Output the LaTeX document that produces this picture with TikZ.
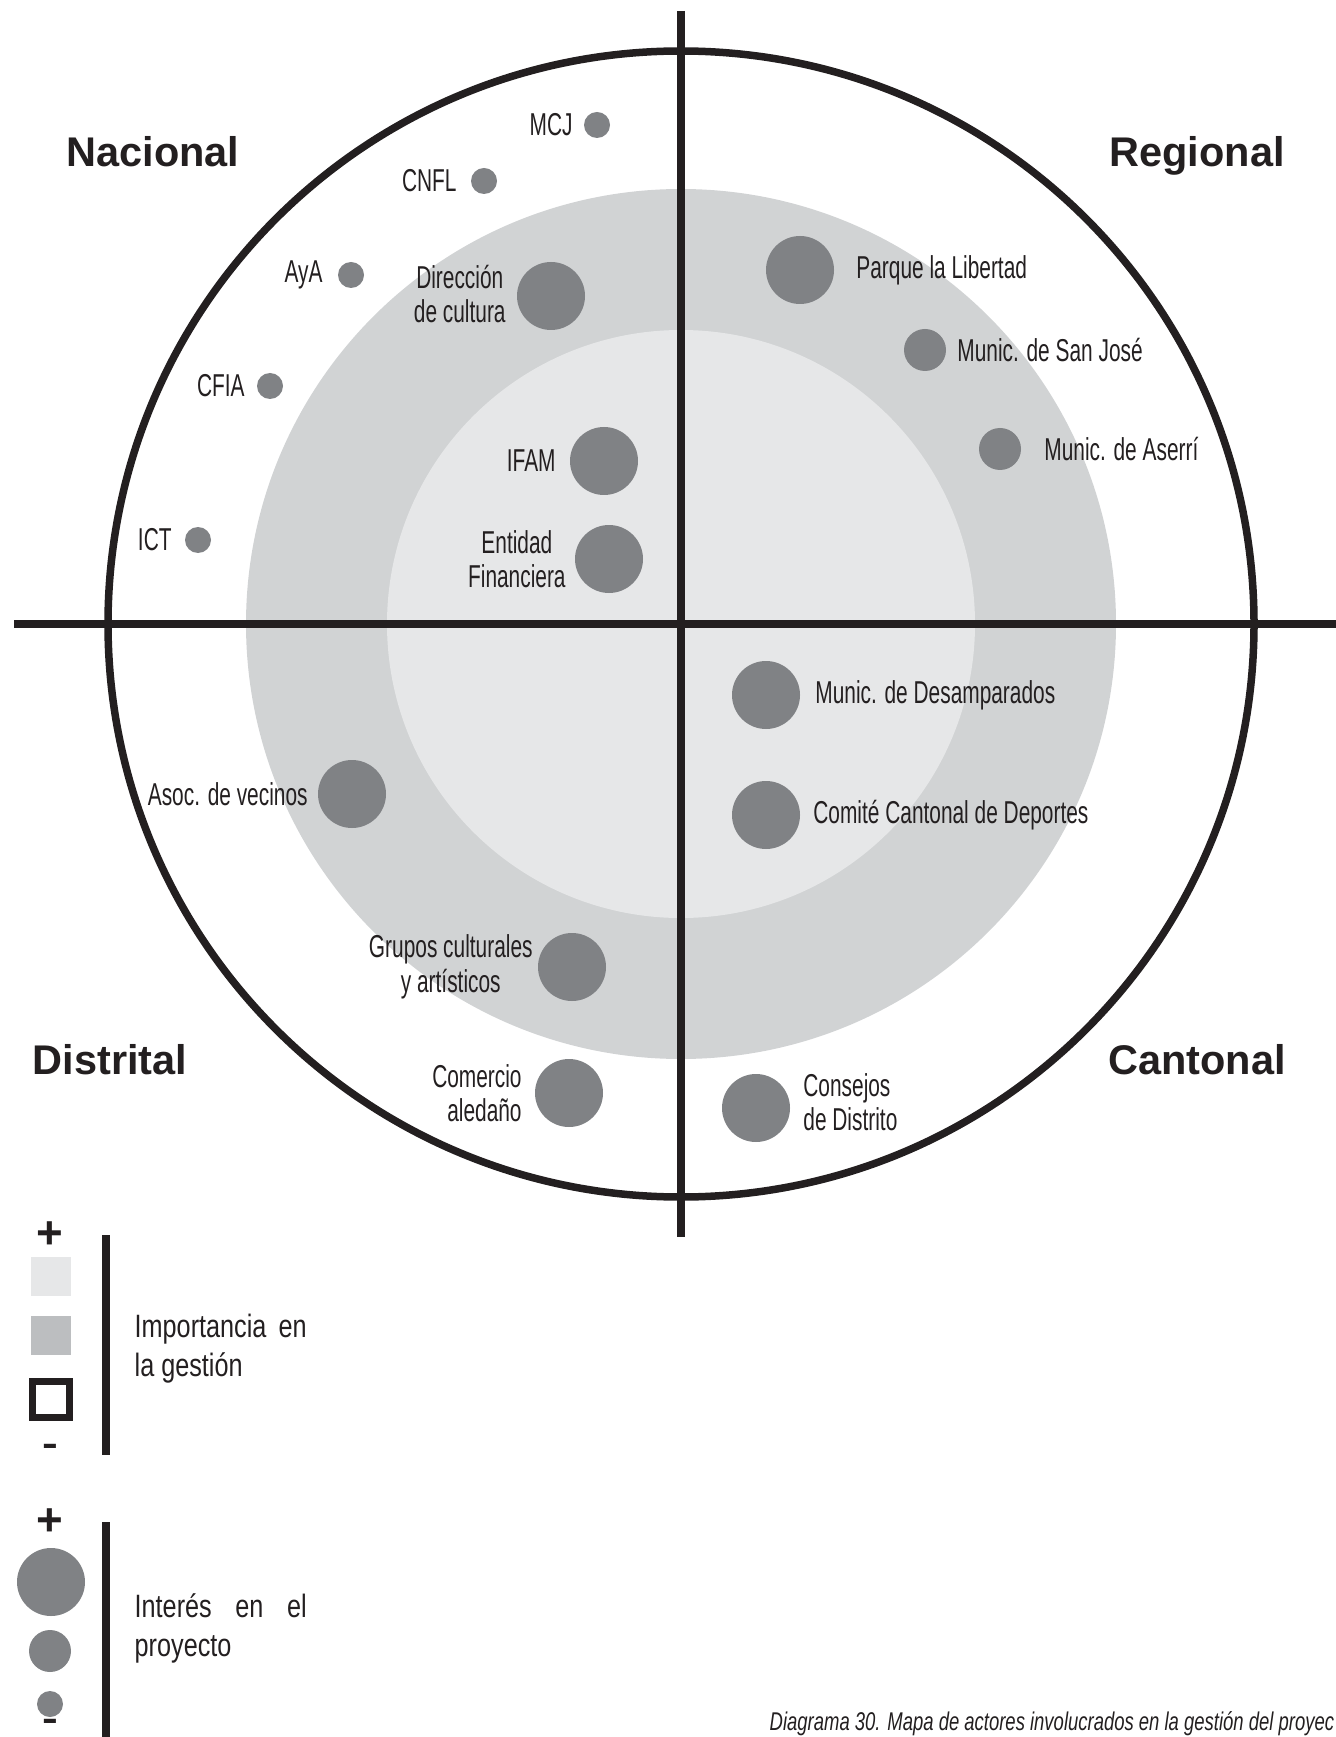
\documentclass[tikz,border=0pt]{standalone}
\usepackage{fontspec}
\setmainfont{Liberation Sans}
\newfontfamily\condfont{Liberation Sans}[FakeStretch=0.66]
\newfontfamily\keyfont{Liberation Sans}[FakeStretch=0.78]
\newfontfamily\capfont{Liberation Sans}[FakeStretch=0.72]
\newfontfamily\minusfont{Liberation Sans}[FakeStretch=1.35]
\usetikzlibrary{positioning}

\definecolor{ink}{RGB}{35,31,32}
\definecolor{dotgray}{RGB}{128,130,133}
\definecolor{ringgray}{RGB}{209,211,212}
\definecolor{coregray}{RGB}{230,231,232}
\definecolor{keygray}{RGB}{188,190,192}

\begin{document}
\begin{tikzpicture}[x=0.1mm, y=-0.1mm,
  every node/.style={inner sep=0pt, text=ink},
  dotL/.style={circle, fill=dotgray, minimum size=6.8mm},
  dotM/.style={circle, fill=dotgray, minimum size=4.2mm},
  dotS/.style={circle, fill=dotgray, minimum size=2.6mm},
  tag/.style={font=\condfont\fontsize{9}{9.8}\selectfont},
  zone/.style={anchor=base, font=\bfseries\fontsize{11.8}{13}\selectfont},
  sign/.style={font=\bfseries\fontsize{13}{13}\selectfont},
  minus/.style={font=\minusfont\bfseries\fontsize{10}{10}\selectfont},
  keytext/.style={anchor=north west, text width=17.2mm, align=justify, font=\keyfont\fontsize{9.2}{11.1}\selectfont},
  legendbar/.style={draw=ink, line width=0.75mm}]
\path[use as bounding box] (0,0) rectangle (1336,1737);

\coordinate (o) at (681,624);
\fill[ringgray] (o) circle (435);
\fill[coregray] (o) circle (294);
\draw[ink, line width=0.75mm] (o) circle (573);
\draw[ink, line width=0.8mm] (681,11) -- (681,1237);
\draw[ink, line width=0.8mm] (14,624) -- (1336,624);

\node[zone] (nacional) at (153,167) {Nacional};
\node[zone] (regional) at (1197,167) {Regional};
\node[zone] (distrital) at (110,1074) {Distrital};
\node[zone] (cantonal) at (1197,1074) {Cantonal};

\node[dotS] (mcj) at (597,125) {};
\node[tag, left=1mm of mcj] (mcjtag) {MCJ};
\node[dotS] (cnfl) at (484,181) {};
\node[tag, left=1.3mm of cnfl] (cnfltag) {CNFL};
\node[dotS] (aya) at (351,275) {};
\node[tag, left=1.4mm of aya] (ayatag) {AyA};
\node[dotS] (cfia) at (270,386) {};
\node[tag, left=1.1mm of cfia] (cfiatag) {CFIA};
\node[dotS] (ict) at (198,540) {};
\node[tag, left=1.2mm of ict] (icttag) {ICT};
\node[dotL] (dir) at (551,296) {};
\node[tag, align=center, left=1mm of dir, yshift=0.2mm] (dirtag) {Dirección\\de cultura};
\node[dotL] (ifam) at (604,461) {};
\node[tag, left=1.3mm of ifam] (ifamtag) {IFAM};
\node[dotL] (ent) at (609,559) {};
\node[tag, align=center, left=0.8mm of ent] (enttag) {Entidad\\Financiera};

\node[dotL] (parque) at (800,270) {};
\node[tag, right=2.1mm of parque] (parquetag) {Parque la Libertad};
\node[dotM] (sanjose) at (925,350) {};
\node[tag, right=1mm of sanjose] (sanjosetag) {Munic. de San José};
\node[dotM] (aserri) at (1000,449) {};
\node[tag, right=2.2mm of aserri] (aserritag) {Munic. de Aserrí};

\node[dotL] (desamp) at (766,695) {};
\node[tag, right=1.4mm of desamp] (desamptag) {Munic. de Desamparados};
\node[dotL] (comite) at (766,815) {};
\node[tag, right=1.2mm of comite] (comitetag) {Comité Cantonal de Deportes};
\node[dotL] (consejos) at (756,1108) {};
\node[tag, align=left, right=1.2mm of consejos, yshift=0.6mm] (consejostag) {Consejos\\de Distrito};

\node[dotL] (asoc) at (352,794) {};
\node[tag, left=0.9mm of asoc] (asoctag) {Asoc. de vecinos};
\node[dotL] (grupos) at (572,967) {};
\node[tag, align=center, left=0.4mm of grupos] (grupostag) {Grupos culturales\\y artísticos};
\node[dotL] (comercio) at (569,1093) {};
\node[tag, align=right, left=1.2mm of comercio] (comerciotag) {Comercio\\aledaño};

\node[sign] (impmas) at (50,1235) {+};
\fill[coregray] (31,1257) rectangle (71,1296);
\fill[keygray] (31,1316) rectangle (71,1355);
\draw[ink, line width=0.7mm] (32.5,1381.5) rectangle (69.5,1417.5);
\node[minus] (impmenos) at (50,1450) {-};
\draw[legendbar] (106,1235) -- (106,1455);
\node[keytext] (imptext) at (134,1313) {Importancia en\linebreak la gestión};

\node[sign] (intmas) at (50,1522) {+};
\node[dotL] (keyL) at (51,1582) {};
\node[dotM] (keyM) at (50,1651) {};
\node[dotS] (keyS) at (50,1704) {};
\node[minus] (intmenos) at (50,1725) {-};
\draw[legendbar] (106,1522) -- (106,1737);
\node[keytext] (inttext) at (134,1593) {Interés en el\linebreak proyecto};

\node[anchor=base west, font=\capfont\itshape\fontsize{7.3}{8}\selectfont] (caption) at (769,1730)
  {Diagrama 30. Mapa de actores involucrados en la gestión del proyec};
\end{tikzpicture}
\end{document}
